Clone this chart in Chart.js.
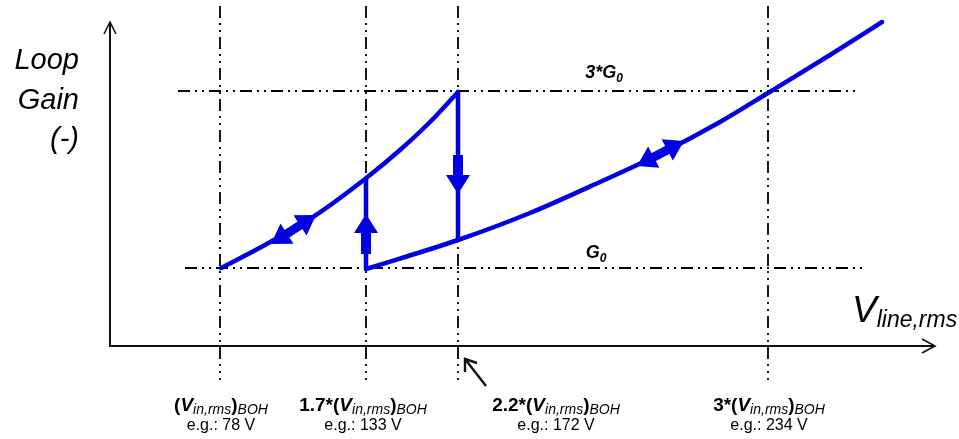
<!DOCTYPE html>
<html><head><meta charset="utf-8">
<script src="https://cdn.jsdelivr.net/npm/chart.js@4.4.1/dist/chart.umd.min.js"></script>
<style>html,body{margin:0;padding:0;background:#fff;overflow:hidden}#wrap{width:959px;height:439px}</style>
</head><body><div id="wrap"><canvas id="c" width="959" height="439"></canvas></div>
<script>
// ---- schematic data (x: line voltage schematic units, y: loop gain schematic units, down = lower gain) ----
const refMultipliers = ['', '1.7*', '2.2*', '3*'];
const refExamples = ['e.g.: 78 V', 'e.g.: 133 V', 'e.g.: 172 V', 'e.g.: 234 V'];
const refX = [220, 366, 458, 768];
const refLabelX = [221, 363, 556, 769];
const gainNames = ['G', '3*G'];
const gainY = [268, 91];
const upperX = [221, 265, 313, 365, 400, 430, 458];
const upperY = [268, 245, 217, 179, 150, 122, 92];
const dropX = [458, 458];
const dropY = [92, 240];
const lowerX = [366, 458, 530, 600, 660, 720, 768, 830, 882];
const lowerY = [269, 240, 213, 182, 154, 122, 93, 55, 22];
const riseX = [366, 366];
const riseY = [269, 179];
// direction arrows: [tailX, tailY, tipX, tipY]
const singleArrows = [[458, 155, 458, 194], [366, 254, 366, 214]];
const doubleArrows = [[271, 244, 316, 215], [637, 166, 684, 141]];

const BLUE = '#0000e0';
const FONT = '"Liberation Sans", Arial, sans-serif';
const pts = (xs, ys) => xs.map((x, i) => ({x, y: ys[i]}));

function dashDot(ctx) { ctx.setLineDash([12, 5, 2, 5, 2, 5]); }

function rich(ctx, parts, x, y, align) {
  let w = 0;
  parts.forEach(p => { ctx.font = p.f; w += ctx.measureText(p.t).width; });
  let cx = align === 'center' ? x - w / 2 : (align === 'right' ? x - w : x);
  parts.forEach(p => { ctx.font = p.f; ctx.fillText(p.t, cx, y + (p.dy || 0)); cx += ctx.measureText(p.t).width; });
}

function arrowHead(ctx, x0, y0, x1, y1, len, half, shaft) {
  const dx = x1 - x0, dy = y1 - y0, L = Math.hypot(dx, dy), ux = dx / L, uy = dy / L;
  const bx = x1 - ux * len, by = y1 - uy * len;
  ctx.lineWidth = shaft; ctx.lineCap = 'butt'; ctx.setLineDash([]);
  ctx.beginPath(); ctx.moveTo(x0, y0); ctx.lineTo(bx + ux, by + uy); ctx.stroke();
  ctx.beginPath(); ctx.moveTo(x1, y1);
  ctx.lineTo(bx - uy * half, by + ux * half); ctx.lineTo(bx + uy * half, by - ux * half);
  ctx.closePath(); ctx.fill();
}

const deco = {
  id: 'deco',
  beforeDatasetsDraw(chart) {
    const {ctx, scales: {x, y}} = chart;
    const X = v => x.getPixelForValue(v), Y = v => y.getPixelForValue(v);
    ctx.save();
    ctx.strokeStyle = '#000'; ctx.lineWidth = 1.8; dashDot(ctx);
    refX.forEach(v => { ctx.beginPath(); ctx.moveTo(X(v), Y(6)); ctx.lineTo(X(v), Y(380)); ctx.stroke(); });
    ctx.beginPath(); ctx.moveTo(X(178), Y(gainY[1])); ctx.lineTo(X(860), Y(gainY[1])); ctx.stroke();
    ctx.beginPath(); ctx.moveTo(X(185), Y(gainY[0])); ctx.lineTo(X(862), Y(gainY[0])); ctx.stroke();
    ctx.setLineDash([]);
    // axes
    ctx.strokeStyle = '#111'; ctx.lineWidth = 2;
    ctx.beginPath(); ctx.moveTo(X(110), Y(22)); ctx.lineTo(X(110), Y(346)); ctx.lineTo(X(935), Y(346)); ctx.stroke();
    ctx.lineWidth = 1.6;
    ctx.beginPath(); ctx.moveTo(X(104), Y(34)); ctx.lineTo(X(110), Y(22)); ctx.lineTo(X(116), Y(34)); ctx.stroke();
    ctx.beginPath(); ctx.moveTo(X(922), Y(339)); ctx.lineTo(X(935), Y(346)); ctx.lineTo(X(922), Y(353)); ctx.stroke();
    // pointer arrow
    ctx.lineWidth = 2.4;
    ctx.beginPath(); ctx.moveTo(X(486), Y(386)); ctx.lineTo(X(465), Y(359)); ctx.stroke();
    ctx.beginPath(); ctx.moveTo(X(465), Y(372)); ctx.lineTo(X(465), Y(359)); ctx.lineTo(X(477), Y(363)); ctx.stroke();
    // texts
    ctx.fillStyle = '#000'; ctx.textBaseline = 'alphabetic';
    ctx.font = 'italic 29px ' + FONT; ctx.textAlign = 'right';
    ctx.fillText('Loop', 79, 69); ctx.fillText('Gain', 79, 109); ctx.fillText('(-)', 79, 148);
    ctx.textAlign = 'left';
    rich(ctx, [{t: gainNames[1], f: 'italic bold 18px ' + FONT}, {t: '0', f: 'italic bold 12px ' + FONT, dy: 4}], X(604), Y(78), 'center');
    rich(ctx, [{t: gainNames[0], f: 'italic bold 18px ' + FONT}, {t: '0', f: 'italic bold 12px ' + FONT, dy: 4}], X(596), Y(258), 'center');
    rich(ctx, [{t: 'V', f: 'italic 37px ' + FONT}, {t: 'line,rms', f: 'italic 23px ' + FONT, dy: 5}], X(852), Y(322), 'left');
    refX.forEach((v, i) => {
      rich(ctx, [
        {t: refMultipliers[i] + '(', f: 'bold 19px ' + FONT},
        {t: 'V', f: 'italic bold 19px ' + FONT},
        {t: 'in,rms', f: 'italic 14px ' + FONT, dy: 3},
        {t: ')', f: 'bold 19px ' + FONT},
        {t: 'BOH', f: 'italic 14px ' + FONT, dy: 3}
      ], X(refLabelX[i]), Y(411), 'center');
      ctx.font = '16px ' + FONT; ctx.textAlign = 'center';
      ctx.fillText(refExamples[i], X(refLabelX[i]), Y(430));
      ctx.textAlign = 'left';
    });
    ctx.restore();
  },
  afterDatasetsDraw(chart) {
    const {ctx, scales: {x, y}} = chart;
    const X = v => x.getPixelForValue(v), Y = v => y.getPixelForValue(v);
    ctx.save();
    ctx.fillStyle = BLUE; ctx.strokeStyle = BLUE;
    singleArrows.forEach(a => arrowHead(ctx, X(a[0]), Y(a[1]), X(a[2]), Y(a[3]), 19, 12, 10));
    doubleArrows.forEach(a => {
      const mx = (X(a[0]) + X(a[2])) / 2, my = (Y(a[1]) + Y(a[3])) / 2;
      arrowHead(ctx, mx, my, X(a[0]), Y(a[1]), 19, 12, 9);
      arrowHead(ctx, mx, my, X(a[2]), Y(a[3]), 19, 12, 9);
    });
    ctx.restore();
  }
};

const lineDs = (data, mono) => ({data, showLine: true, borderColor: BLUE, borderWidth: 4.5, pointRadius: 0,
  cubicInterpolationMode: mono ? 'monotone' : 'default', tension: 0, borderCapStyle: 'round', borderJoinStyle: 'round'});

new Chart(document.getElementById('c'), {
  type: 'scatter',
  data: {datasets: [
    lineDs(pts(upperX, upperY), true),
    lineDs(pts(dropX, dropY), false),
    lineDs(pts(lowerX, lowerY), true),
    lineDs(pts(riseX, riseY), false)
  ]},
  options: {
    responsive: false, animation: false, devicePixelRatio: 1,
    layout: {padding: 0},
    plugins: {legend: {display: false}, tooltip: {enabled: false}},
    scales: {
      x: {type: 'linear', min: 0, max: 959, display: false},
      y: {type: 'linear', min: 0, max: 439, reverse: true, display: false}
    }
  },
  plugins: [deco]
});
</script></body></html>
